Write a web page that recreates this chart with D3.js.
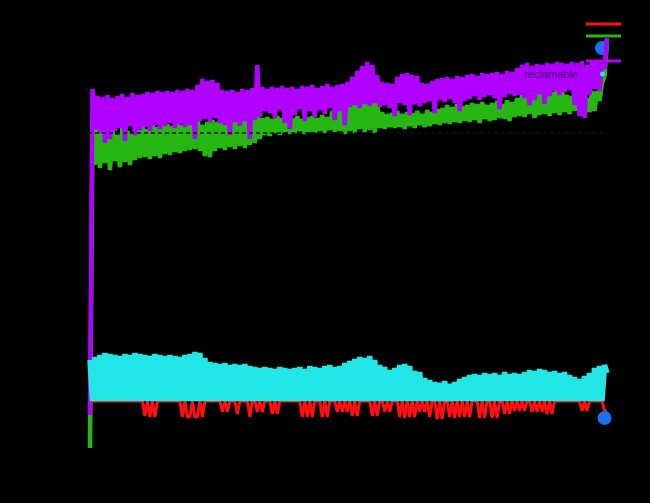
<!DOCTYPE html>
<html><head><meta charset="utf-8">
<script src="https://cdn.jsdelivr.net/npm/d3@7"></script>
<style>html,body{margin:0;background:#000;} svg{display:block;background:#000}</style>
</head><body><svg id="c" width="650" height="503"></svg>
<script>
// ---- data ----
const seriesNames = ["Pendiente", "Reclamado", "Último", "Total", "Diario"];

const totalSeries = [
  -14,
  312, 272, 305, 268, 304, 258, 306, 262, 303, 270,
  305, 273, 307, 260, 304, 275, 308, 266, 306, 271,
  307, 274, 309, 270, 308, 276, 310, 272, 309, 275,
  310, 278, 309, 273, 311, 277, 310, 274, 312, 276,
  311, 262, 316, 280, 322, 282, 320, 279, 321, 283,
  318, 278, 311, 276, 310, 266, 311, 279, 309, 275,
  312, 280, 311, 262, 313, 281, 336, 284, 314, 290,
  312, 288, 314, 283, 313, 291, 315, 278, 313, 272,
  314, 286, 312, 292, 315, 280, 314, 290, 316, 284,
  313, 291, 315, 287, 317, 293, 314, 281, 316, 290,
  317, 276, 319, 294, 324, 296, 330, 293, 335, 297,
  339, 295, 336, 298, 326, 294, 319, 296, 318, 293,
  317, 285, 324, 298, 327, 296, 328, 286, 326, 297,
  325, 295, 318, 298, 317, 300, 320, 288, 322, 301,
  323, 299, 324, 302, 322, 298, 325, 290, 324, 300,
  326, 302, 327, 305, 325, 301, 328, 304, 327, 306,
  328, 303, 329, 292, 327, 304, 330, 307, 329, 305,
  333, 306, 336, 303, 338, 296, 335, 301, 337, 307,
  336, 297, 338, 305, 337, 310, 339, 306, 338, 309,
  337, 311, 339, 296, 338, 285, 340, 283, 336, 306,
  339, 312, 341, 310, 338, 332, 363
];

const claimedSeries = [
  -47,
  272, 236, 283, 233, 270, 238, 268, 231, 272, 240,
  266, 234, 275, 239, 270, 236, 268, 241, 273, 243,
  276, 244, 272, 242, 278, 245, 274, 243, 276, 247,
  277, 246, 275, 249, 278, 248, 276, 250, 279, 251,
  277, 252, 290, 250, 276, 245, 279, 244, 281, 250,
  279, 253, 281, 251, 283, 254, 280, 252, 282, 255,
  284, 253, 281, 256, 304, 258, 285, 262, 283, 266,
  284, 265, 282, 268, 285, 266, 283, 269, 284, 267,
  283, 268, 285, 270, 282, 267, 284, 269, 285, 268,
  283, 270, 286, 268, 284, 271, 290, 269, 293, 270,
  298, 267, 295, 270, 302, 268, 297, 272, 312, 269,
  308, 271, 310, 268, 298, 273, 289, 272, 287, 274,
  288, 273, 290, 274, 287, 272, 289, 275, 288, 273,
  290, 276, 287, 274, 291, 275, 289, 277, 292, 276,
  293, 278, 296, 277, 294, 279, 297, 278, 295, 280,
  296, 279, 298, 281, 297, 278, 299, 282, 296, 280,
  298, 281, 300, 283, 297, 282, 301, 280, 299, 284,
  303, 285, 306, 284, 305, 287, 309, 283, 307, 286,
  308, 287, 311, 285, 309, 288, 314, 286, 310, 289,
  306, 287, 305, 290, 312, 286, 302, 288, 303, 289,
  310, 290, 310, 300, 318, 325, 361
];

const dailySeries = [
  41,
  0, 44, 0, 46, 0, 48, 0, 47, 0, 46,
  0, 45, 0, 47, 0, 46, 0, 48, 0, 47,
  0, 46, 0, 45, 0, 47, 0, 46, 0, 45,
  0, 46, 0, 45, 0, 44, 0, 46, 0, 47,
  0, 49, 0, 48, 0, 43, 0, 39, 0, 38,
  0, 37, 0, 38, 0, 36, 0, 37, 0, 36,
  0, 37, 0, 35, 0, 34, 0, 33, 0, 34,
  0, 33, 0, 32, 0, 34, 0, 33, 0, 32,
  0, 33, 0, 34, 0, 32, 0, 35, 0, 34,
  0, 33, 0, 35, 0, 36, 0, 34, 0, 35,
  0, 38, 0, 40, 0, 42, 0, 44, 0, 43,
  0, 45, 0, 41, 0, 36, 0, 34, 0, 31,
  0, 33, 0, 36, 0, 37, 0, 35, 0, 30,
  0, 29, 0, 23, 0, 21, 0, 19, 0, 18,
  0, 20, 0, 17, 0, 19, 0, 22, 0, 24,
  0, 26, 0, 27, 0, 26, 0, 28, 0, 27,
  0, 28, 0, 26, 0, 29, 0, 27, 0, 28,
  0, 27, 0, 29, 0, 31, 0, 30, 0, 32,
  0, 31, 0, 29, 0, 30, 0, 28, 0, 29,
  0, 26, 0, 24, 0, 22, 0, 25, 0, 28,
  0, 33, 0, 35, 0, 36, 28
];

// pending: zero on most days, negative on these [day, value]
const pendingDays = [
  [22,-15],[24,-16],[26,-16],
  [37,-16],[39,-16],[40,-16],[42,-16],[43,-16],[45,-16],
  [53,-11],[55,-11],[59,-13],[64,-16],[67,-11],[69,-11],
  [73,-13],[75,-13],
  [85,-16],[87,-16],[89,-16],[93,-16],[95,-16],
  [99,-11],[101,-11],[103,-11],[105,-15],[107,-15],
  [113,-15],[115,-15],[118,-11],[120,-11],
  [124,-16],[126,-17],[128,-16],[130,-16],
  [132,-11],[134,-11],[136,-16],
  [139,-18],[141,-18],[144,-16],[146,-17],[148,-16],
  [150,-16],[152,-16],[156,-17],[158,-17],
  [161,-17],[163,-17],[166,-13],[168,-13],
  [170,-10],[172,-10],[174,-10],
  [177,-11],[179,-11],[181,-11],[183,-13],[185,-13],
  [197,-10],[199,-10],[206,-10],[207,-10]
];

const lastPoint = [[206, -17]];
const referenceLevel = 268;
const annotation = { day: 205, value: 327, label: "reclamable" };

const yTicks = [0, 100, 200, 300];
const xTickDays = [0, 50, 100, 150, 200];

// ---- build ----
const days = totalSeries.map((_, i) => i);
const pendingMap = new Map(pendingDays);
const pendingSeries = days.map(d => pendingMap.has(d) ? pendingMap.get(d) : 0);

const svg = d3.select("#c");
const x = d3.scaleLinear().domain([0, days.length - 1]).range([90, 607]);
const y = d3.scaleLinear().domain([-50, 400]).range([451, 1]);

const colors = { pending: "#ff1010", claimed: "#26b712", last: "#1c6ff2", total: "#b000ff", daily: "#22e6e6" };

// axes (black, like the original)
svg.append("g").attr("transform", "translate(86,0)")
  .call(d3.axisLeft(y).tickValues(yTicks))
  .call(g => g.selectAll("path,line").attr("stroke", "#000"))
  .call(g => g.selectAll("text").attr("fill", "#000").attr("font-family", "DejaVu Sans"));
svg.append("g").attr("transform", "translate(0,455)")
  .call(d3.axisBottom(x).tickValues(xTickDays))
  .call(g => g.selectAll("path,line").attr("stroke", "#000"))
  .call(g => g.selectAll("text").attr("fill", "#000").attr("font-family", "DejaVu Sans"));

// legend
const legend = [
  { name: seriesNames[0], color: colors.pending, type: "line", y: 24 },
  { name: seriesNames[1], color: colors.claimed, type: "line", y: 36 },
  { name: seriesNames[2], color: colors.last, type: "dot", y: 48 },
  { name: seriesNames[3], color: colors.total, type: "line", y: 61 }
];
const lg = svg.append("g");
legend.forEach(l => {
  if (l.type === "line") {
    lg.append("line").attr("x1", 586).attr("x2", 621).attr("y1", l.y).attr("y2", l.y)
      .attr("stroke", l.color).attr("stroke-width", 3);
  } else {
    lg.append("circle").attr("cx", 602).attr("cy", l.y).attr("r", 7).attr("fill", l.color);
  }
  lg.append("text").attr("x", 580).attr("y", l.y + 4).attr("text-anchor", "end")
    .attr("font-family", "DejaVu Sans").attr("font-size", 11).attr("fill", "#000").text(l.name);
});

const line = d3.line().x((d, i) => x(days[i])).y(d => y(d));

function drawSeries(values, color, w) {
  svg.append("path").datum(values).attr("d", line)
    .attr("fill", "none").attr("stroke", color).attr("stroke-width", w)
    .attr("stroke-linejoin", "bevel");
}
drawSeries(claimedSeries, colors.claimed, 4.5);
drawSeries(totalSeries, colors.total, 4.5);
drawSeries(pendingSeries, colors.pending, 3);
drawSeries(dailySeries, colors.daily, 5.5);

// reference dashed line
svg.append("line").attr("x1", x(0) - 2).attr("x2", x(days.length - 1))
  .attr("y1", y(referenceLevel)).attr("y2", y(referenceLevel))
  .attr("stroke", "#111").attr("stroke-width", 1.5).attr("stroke-dasharray", "4,3");

// last point marker
svg.selectAll("circle.last").data(lastPoint).enter().append("circle")
  .attr("cx", d => x(d[0])).attr("cy", d => y(d[1])).attr("r", 7).attr("fill", colors.last);

// annotation
svg.append("circle").attr("cx", x(annotation.day) + 0.5).attr("cy", y(annotation.value))
  .attr("r", 2.5).attr("fill", colors.daily);
svg.append("text").attr("x", x(annotation.day) - 24).attr("y", y(annotation.value) + 4)
  .attr("text-anchor", "end").attr("font-family", "Liberation Sans").attr("font-size", 11)
  .attr("fill", "#000").attr("fill-opacity", 0.6).text(annotation.label);

// titles (black as in original)
svg.append("text").attr("x", 348).attr("y", 490).attr("text-anchor", "middle")
  .attr("font-family", "DejaVu Sans").attr("font-size", 12).attr("fill", "#000").text("Días");
svg.append("text").attr("transform", "translate(30,240) rotate(-90)").attr("text-anchor", "middle")
  .attr("font-family", "DejaVu Sans").attr("font-size", 12).attr("fill", "#000").text("Importe");
</script></body></html>
